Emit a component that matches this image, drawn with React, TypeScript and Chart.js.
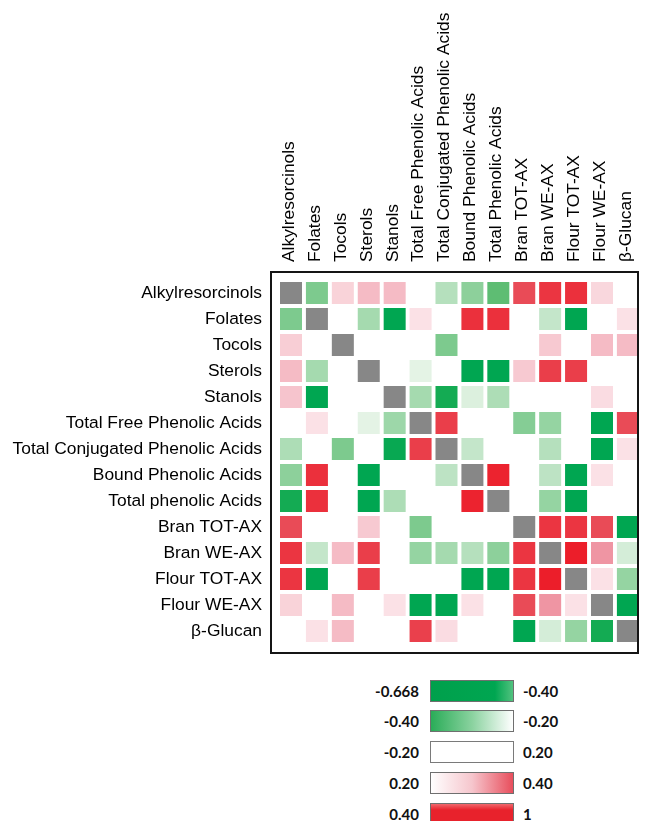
import React, { useEffect, useRef } from "react";
import { Chart, registerables } from "chart.js";
Chart.register(...registerables);

const columnLabels = [
  "Alkylresorcinols", "Folates", "Tocols", "Sterols", "Stanols",
  "Total Free Phenolic Acids", "Total Conjugated Phenolic Acids",
  "Bound Phenolic Acids", "Total Phenolic Acids", "Bran TOT-AX",
  "Bran WE-AX", "Flour TOT-AX", "Flour WE-AX", "β-Glucan",
];
const rowLabels = [
  "Alkylresorcinols", "Folates", "Tocols", "Sterols", "Stanols",
  "Total Free Phenolic Acids", "Total Conjugated Phenolic Acids",
  "Bound Phenolic Acids", "Total phenolic Acids", "Bran TOT-AX",
  "Bran WE-AX", "Flour TOT-AX", "Flour WE-AX", "β-Glucan",
];

// correlation rows (row order = rowLabels, column order = columnLabels)
const alkylresorcinols = [1, -0.33, 0.25, 0.3, 0.3, 0, -0.26, -0.31, -0.37, 0.5, 0.6, 0.62, 0.24, 0];
const folates = [-0.33, 1, 0, -0.28, -0.5, 0.22, 0, 0.62, 0.62, 0, -0.24, -0.5, 0, 0.22];
const tocols = [0.26, 0, 1, 0, 0, 0, -0.33, 0, 0, 0, 0.27, 0, 0.3, 0.3];
const sterols = [0.3, -0.28, 0, 1, 0, -0.2, 0, -0.5, -0.5, 0.27, 0.56, 0.56, 0, 0];
const stanols = [0.28, -0.5, 0, 0, 1, -0.28, -0.45, -0.21, -0.27, 0, 0, 0, 0.23, 0];
const totalFreePA = [0, 0.22, 0, -0.2, -0.29, 1, 0.56, 0, 0, -0.32, -0.3, 0, -0.5, 0.5];
const totalConjugatedPA = [-0.27, 0, -0.33, 0, -0.48, 0.56, 1, -0.24, 0, 0, -0.26, 0, -0.5, 0.22];
const boundPA = [-0.31, 0.62, 0, -0.5, 0, 0, -0.25, 1, 0.68, 0, -0.25, -0.5, 0.22, 0];
const totalPA = [-0.45, 0.62, 0, -0.5, -0.27, 0, 0, 0.68, 1, 0, -0.3, -0.5, 0, 0];
const branTOTAX = [0.5, 0, 0, 0.27, 0, -0.33, 0, 0, 0, 1, 0.6, 0.6, 0.5, -0.5];
const branWEAX = [0.6, -0.24, 0.3, 0.56, 0, -0.3, -0.28, -0.26, -0.31, 0.6, 1, 0.7, 0.38, -0.22];
const flourTOTAX = [0.6, -0.5, 0, 0.56, 0, 0, 0, -0.5, -0.5, 0.6, 0.7, 1, 0.22, -0.3];
const flourWEAX = [0.25, 0, 0.3, 0, 0.22, -0.5, -0.5, 0.22, 0, 0.5, 0.38, 0.22, 1, -0.5];
const betaGlucan = [0, 0.22, 0.3, 0, 0, 0.55, 0.23, 0, 0, -0.5, -0.22, -0.3, -0.45, 1];

const matrixRows = [
  alkylresorcinols, folates, tocols, sterols, stanols, totalFreePA,
  totalConjugatedPA, boundPA, totalPA, branTOTAX, branWEAX, flourTOTAX,
  flourWEAX, betaGlucan,
];

const legendLow = ["-0.668", "-0.40", "-0.20", "0.20", "0.40"];
const legendHigh = ["-0.40", "-0.20", "0.20", "0.40", "1"];

type RGB = [number, number, number];
const lerp = (a: RGB, b: RGB, t: number): string => {
  const k = Math.max(0, Math.min(1, t));
  const c = a.map((v, i) => Math.round(v + (b[i] - v) * k));
  return `rgb(${c[0]},${c[1]},${c[2]})`;
};

function cellColor(v: number, diag: boolean): string {
  if (diag) return "rgb(135,135,135)";
  if (v >= 0.4) return lerp([232, 98, 110], [236, 30, 42], (v - 0.4) / 0.3);
  if (v >= 0.2) return lerp([252, 234, 238], [238, 140, 155], (v - 0.2) / 0.2);
  if (v > -0.2) return "rgba(255,255,255,0)";
  if (v > -0.4) return lerp([228, 243, 229], [70, 180, 95], (-0.2 - v) / 0.2);
  return lerp([40, 175, 85], [0, 166, 81], (-0.4 - v) / 0.1);
}

const FONT = "'Liberation Sans', Arial, sans-serif";

const framePlugin = {
  id: "frame",
  afterDraw(chart: any) {
    const { ctx, chartArea } = chart;
    ctx.save();
    ctx.strokeStyle = "#151515";
    ctx.lineWidth = 2;
    ctx.strokeRect(chartArea.left, chartArea.top, chartArea.right - chartArea.left, chartArea.bottom - chartArea.top);
    ctx.restore();
  },
};

export default function App() {
  const canvasRef = useRef<HTMLCanvasElement | null>(null);

  useEffect(() => {
    if (!canvasRef.current) return;
    const points: any[] = [];
    matrixRows.forEach((row, i) => {
      row.forEach((v, j) => points.push({ x: j, y: i, v }));
    });
    const chart = new Chart(canvasRef.current, {
      type: "scatter",
      data: {
        datasets: [
          {
            data: points,
            pointStyle: "rect",
            pointRadius: 15.56,
            pointHoverRadius: 15.56,
            borderWidth: 0,
            clip: false,
            backgroundColor: (ctx: any) => {
              const r = ctx.raw;
              return r ? cellColor(r.v, r.x === r.y) : "transparent";
            },
          } as any,
        ],
      },
      options: {
        animation: false,
        responsive: false,
        devicePixelRatio: 1,
        layout: { autoPadding: false, padding: { left: 0, top: 0, right: 10, bottom: 12 } },
        plugins: { legend: { display: false }, tooltip: { enabled: false } },
        scales: {
          x: {
            type: "linear",
            position: "top",
            min: -0.772,
            max: 13.39,
            grid: { display: false, drawTicks: false },
            border: { display: false },
            afterBuildTicks: (s: any) => {
              s.ticks = columnLabels.map((_, i) => ({ value: i }));
            },
            afterFit: (s: any) => {
              s.height = 272;
              s.paddingLeft = 0;
              s.paddingRight = 0;
            },
            ticks: {
              autoSkip: false,
              minRotation: 90,
              maxRotation: 90,
              padding: 10,
              labelOffset: 19,
              color: "#000",
              font: { family: FONT, size: 17.4 },
              callback: (v: any) => columnLabels[v] ?? "",
            },
          },
          y: {
            type: "linear",
            reverse: true,
            min: -0.808,
            max: 13.846,
            grid: { display: false, drawTicks: false },
            border: { display: false },
            afterBuildTicks: (s: any) => {
              s.ticks = rowLabels.map((_, i) => ({ value: i }));
            },
            afterFit: (s: any) => {
              s.width = 271;
              s.paddingTop = 0;
              s.paddingBottom = 0;
            },
            ticks: {
              autoSkip: false,
              padding: 9,
              color: "#000",
              font: { family: FONT, size: 17.4 },
              callback: (v: any) => rowLabels[v] ?? "",
            },
          },
        },
      } as any,
      plugins: [framePlugin],
    });
    return () => chart.destroy();
  }, []);

  const boxStyles: React.CSSProperties[] = [
    { background: "linear-gradient(to right, #00a04c 0%, #00a651 78%, #52c27f 100%)", border: "1px solid #6f6f6f" },
    { background: "linear-gradient(to right, #2aac58 0%, #8ad29f 50%, #ffffff 100%)", border: "1px solid #6f6f6f" },
    { background: "#ffffff", border: "1px solid #7a7a7a" },
    { background: "linear-gradient(to right, #ffffff 0%, #f6c6cd 50%, #e84e5c 100%)", border: "1px solid #6f6f6f" },
    { background: "linear-gradient(#f0686d 0%, #e8222c 30%, #e8222c 100%)", border: "1px solid #6f6f6f" },
  ];
  const tops = [680, 710, 741, 772, 803];
  const legendFont: React.CSSProperties = {
    position: "absolute",
    fontFamily: "Lato, 'Open Sans', sans-serif",
    fontWeight: 700,
    fontSize: 15,
    color: "#111",
    lineHeight: "22px",
    whiteSpace: "nowrap",
  };

  return (
    <div style={{ position: "absolute", left: 0, top: 0, width: 648, height: 821, background: "#fff", overflow: "hidden" }}>
      <canvas ref={canvasRef} width={648} height={665} style={{ position: "absolute", left: 0, top: 0, display: "block" }} />
      {legendLow.map((lab, i) => (
        <React.Fragment key={i}>
          <div style={{ ...legendFont, left: 330, width: 89, textAlign: "right", top: tops[i] }}>{lab}</div>
          <div style={{ position: "absolute", left: 430, top: tops[i], width: 82, height: 20, ...boxStyles[i] }} />
          <div style={{ ...legendFont, left: 523, top: tops[i] }}>{legendHigh[i]}</div>
        </React.Fragment>
      ))}
    </div>
  );
}
